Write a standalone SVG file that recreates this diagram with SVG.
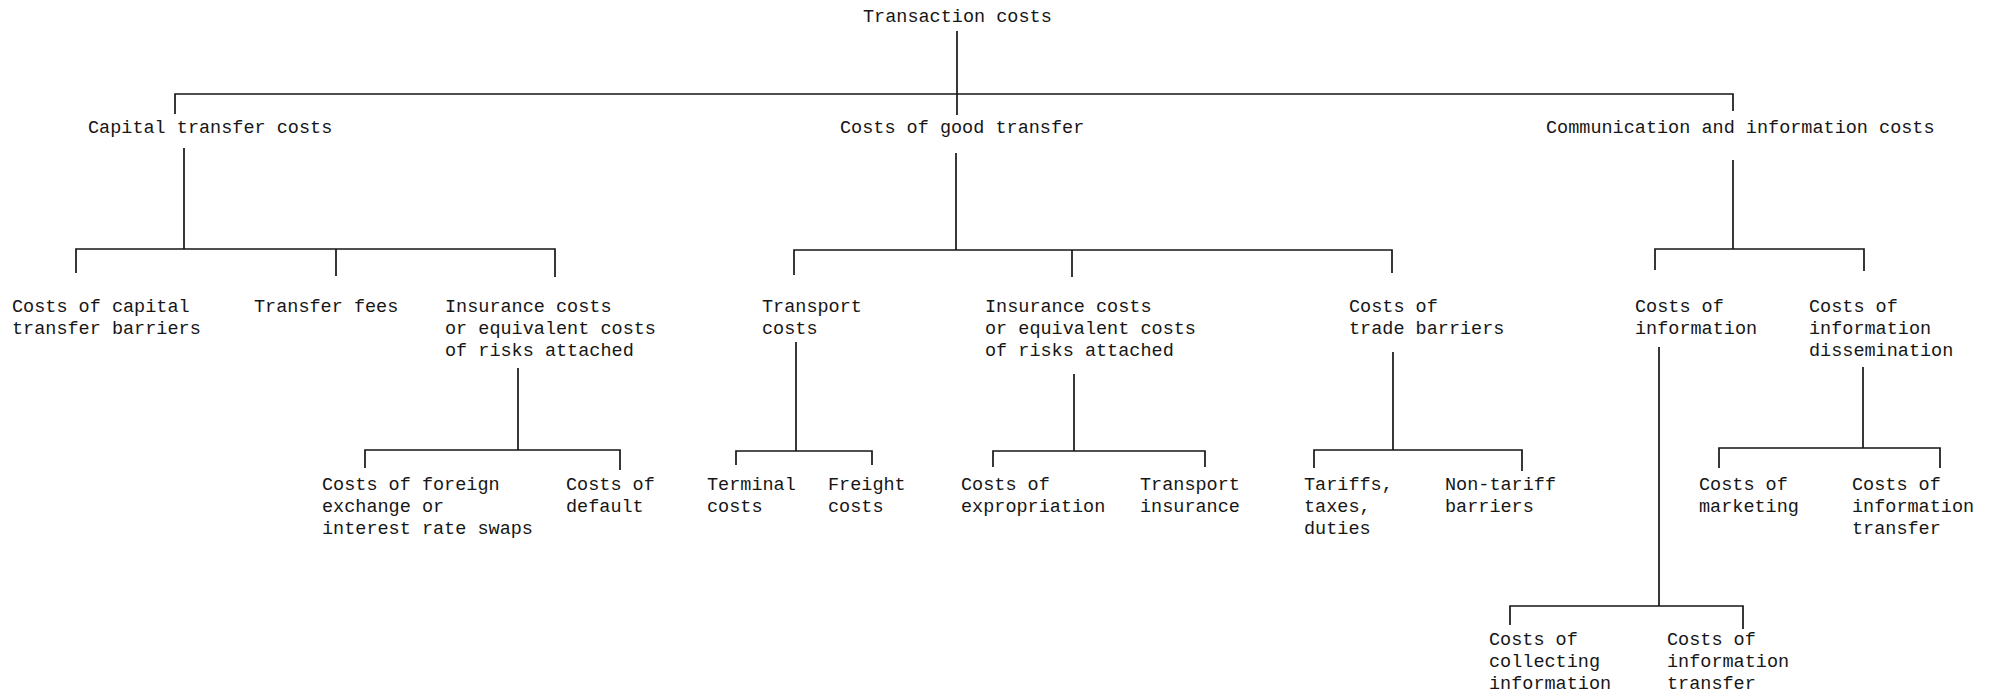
<svg xmlns="http://www.w3.org/2000/svg" width="1995" height="696" viewBox="0 0 1995 696">
<style>
text{font-family:"Liberation Mono","DejaVu Sans Mono",monospace;font-size:18.5px;fill:#161616}
.c path{fill:none;stroke:#161616;stroke-width:1.7}
</style>
<rect width="1995" height="696" fill="#fff"/>
<g class="c" id="connectors">
<path d="M957 31V115M175 114V94H1733V111"/>
<path d="M184 148V249M76 273V249H555V277M336 249V276"/>
<path d="M956 153V250M794 275V250H1392V273M1072 250V277"/>
<path d="M1733 160V249M1655 270V249H1864V271"/>
<path d="M518 368V450M365 468V450H620V470"/>
<path d="M796 342V451M736 465V451H872V465"/>
<path d="M1074 374V451M993 467V451H1205V467"/>
<path d="M1393 352V450M1314 468V450H1522V471"/>
<path d="M1659 347V606M1510 625V606H1743V629"/>
<path d="M1863 367V448M1719 468V448H1940V468"/>
</g>
<g id="n-root"><text x="863" y="22">Transaction costs</text></g>
<g id="n-capital"><text x="88" y="133">Capital transfer costs</text></g>
<g id="n-goods"><text x="840" y="133">Costs of good transfer</text></g>
<g id="n-comm"><text x="1546" y="133">Communication and information costs</text></g>
<g id="n-cap-barriers"><text x="12" y="312">Costs of capital<tspan x="12" dy="22">transfer barriers</tspan></text></g>
<g id="n-fees"><text x="254" y="312">Transfer fees</text></g>
<g id="n-cap-insurance"><text x="445" y="312">Insurance costs<tspan x="445" dy="22">or equivalent costs</tspan><tspan x="445" dy="22">of risks attached</tspan></text></g>
<g id="n-fx"><text x="322" y="490">Costs of foreign<tspan x="322" dy="22">exchange or</tspan><tspan x="322" dy="22">interest rate swaps</tspan></text></g>
<g id="n-default"><text x="566" y="490">Costs of<tspan x="566" dy="22">default</tspan></text></g>
<g id="n-transport"><text x="762" y="312">Transport<tspan x="762" dy="22">costs</tspan></text></g>
<g id="n-goods-insurance"><text x="985" y="312">Insurance costs<tspan x="985" dy="22">or equivalent costs</tspan><tspan x="985" dy="22">of risks attached</tspan></text></g>
<g id="n-trade"><text x="1349" y="312">Costs of<tspan x="1349" dy="22">trade barriers</tspan></text></g>
<g id="n-terminal"><text x="707" y="490">Terminal<tspan x="707" dy="22">costs</tspan></text></g>
<g id="n-freight"><text x="828" y="490">Freight<tspan x="828" dy="22">costs</tspan></text></g>
<g id="n-expropriation"><text x="961" y="490">Costs of<tspan x="961" dy="22">expropriation</tspan></text></g>
<g id="n-transport-ins"><text x="1140" y="490">Transport<tspan x="1140" dy="22">insurance</tspan></text></g>
<g id="n-tariffs"><text x="1304" y="490">Tariffs,<tspan x="1304" dy="22">taxes,</tspan><tspan x="1304" dy="22">duties</tspan></text></g>
<g id="n-nontariff"><text x="1445" y="490">Non-tariff<tspan x="1445" dy="22">barriers</tspan></text></g>
<g id="n-info"><text x="1635" y="312">Costs of<tspan x="1635" dy="22">information</tspan></text></g>
<g id="n-dissem"><text x="1809" y="312">Costs of<tspan x="1809" dy="22">information</tspan><tspan x="1809" dy="22">dissemination</tspan></text></g>
<g id="n-marketing"><text x="1699" y="490">Costs of<tspan x="1699" dy="22">marketing</tspan></text></g>
<g id="n-info-transfer1"><text x="1852" y="490">Costs of<tspan x="1852" dy="22">information</tspan><tspan x="1852" dy="22">transfer</tspan></text></g>
<g id="n-collecting"><text x="1489" y="645">Costs of<tspan x="1489" dy="22">collecting</tspan><tspan x="1489" dy="22">information</tspan></text></g>
<g id="n-info-transfer2"><text x="1667" y="645">Costs of<tspan x="1667" dy="22">information</tspan><tspan x="1667" dy="22">transfer</tspan></text></g>
</svg>
